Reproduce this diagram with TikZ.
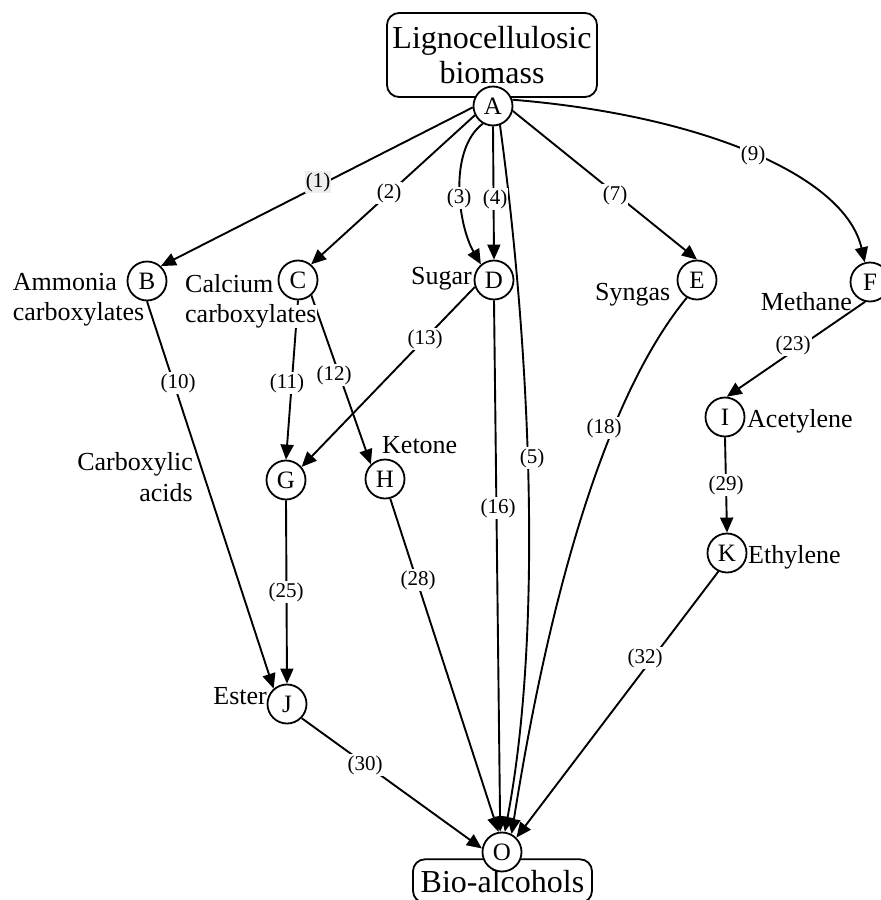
\documentclass[tikz,border=0pt]{standalone}
\usepackage{fontspec}
\setmainfont{Liberation Serif}
\usetikzlibrary{arrows.meta}
\definecolor{lgray}{HTML}{EEEEEE}
\begin{document}
\begin{tikzpicture}[x=1pt,y=-1pt,
  st/.style={circle,draw,fill=white,line width=1.8pt,minimum size=39pt,inner sep=0pt,font=\fontsize{25}{25}\selectfont},
  lab/.style={inner sep=0pt,font=\fontsize{26}{30}\selectfont},
  el/.style={fill=white,inner sep=1pt,font=\fontsize{21}{21}\selectfont},
  ed/.style={line width=1.9pt,-{Triangle[length=15pt,width=13pt]}},
  bx/.style={draw,fill=white,rounded corners=12pt,line width=1.8pt,align=center,inner sep=0pt,font=\fontsize{32}{35}\selectfont}]
\useasboundingbox (0,0) rectangle (881,900);
% boxes
\node[bx,minimum width=210pt,minimum height=84pt] (top) at (492,55) {Lignocellulosic\\biomass};
\node[bx,anchor=base,minimum width=179pt,inner ysep=10.5pt] (bot) at (502.5,892) {Bio-alcohols};
% states
\node[st] (A) at (493,106) {A};
\node[st] (B) at (147,281) {B};
\node[st] (C) at (298,280) {C};
\node[st] (D) at (494,280) {D};
\node[st] (E) at (697,280) {E};
\node[st] (F) at (870,282) {F};
\node[st] (I) at (725,417) {I};
\node[st] (G) at (286,480) {G};
\node[st] (H) at (385,479) {H};
\node[st] (K) at (727,553) {K};
\node[st] (J) at (287,704) {J};
\node[st] (O) at (502,852) {O};
% edges
\draw[ed] (A.184) -- (B.47);
\draw[ed] (A.207) -- (C.50);
\draw[ed] (A.240) .. controls (448,150) and (458,225) .. (D.130);
\draw[ed] (A.south) -- (D.north);
\draw[ed] (A.290) .. controls (528,330) and (545,620) .. (O.82);
\draw[ed] (A.346) -- (E.90);
\draw[ed] (A.18) .. controls (700,115) and (845,175) .. (F.105);
\draw[ed] (B.south) -- (J.131);
\draw[ed] (C.south) -- (G.north);
\draw[ed] (C.311) -- (H.134);
\draw[ed] (D.200) -- (G.40);
\draw[ed] (D.south) -- (O.95);
\draw[ed] (E.240) .. controls (615,385) and (555,560) .. (O.62);
\draw[ed] (F.256) -- (I.85);
\draw[ed] (I.south) -- (K.north);
\draw[ed] (G.south) -- (J.north);
\draw[ed] (H.285) -- (O.100);
\draw[ed] (J.316) -- (O.170);
\draw[ed] (K.245) -- (O.45);
% edge labels
\node[el,fill=lgray] (l1) at (318,182) {(1)};
\node[el] (l2) at (389,193) {(2)};
\node[el] (l3) at (459,198) {(3)};
\node[el] (l4) at (495,199) {(4)};
\node[el] (l7) at (615,195) {(7)};
\node[el] (l9) at (753,155) {(9)};
\node[el] (l10) at (178,383) {(10)};
\node[el] (l11) at (287,383) {(11)};
\node[el] (l12) at (334,375) {(12)};
\node[el] (l13) at (425,339) {(13)};
\node[el] (l5) at (532,458) {(5)};
\node[el] (l16) at (498,508) {(16)};
\node[el] (l18) at (604,428) {(18)};
\node[el] (l23) at (793,345) {(23)};
\node[el] (l29) at (726,485) {(29)};
\node[el] (l25) at (286,592) {(25)};
\node[el] (l28) at (418,580) {(28)};
\node[el] (l30) at (365,765) {(30)};
\node[el] (l32) at (645,658) {(32)};
% text labels
\node[lab,anchor=base west] (tB1) at (12.7,290) {Ammonia};
\node[lab,anchor=base west] (tB2) at (12.7,320) {carboxylates};
\node[lab,anchor=base west,fill=white] (tC1) at (185,292.7) {Calcium};
\node[lab,anchor=base west,fill=white] (tC2) at (185,322.7) {carboxylates};
\node[lab,anchor=base east] (tD) at (472,284) {Sugar};
\node[lab,anchor=base west] (tE) at (595,300) {Syngas};
\node[lab,anchor=base east] (tF) at (852,310) {Methane};
\node[lab,anchor=base west] (tI) at (747,427) {Acetylene};
\node[lab,anchor=base west] (tH) at (382,453) {Ketone};
\node[lab,anchor=base east] (tJa) at (193,470) {Carboxylic};
\node[lab,anchor=base east] (tJb) at (193,501) {acids};
\node[lab,anchor=base east] (tJ) at (267,704) {Ester};
\node[lab,anchor=base west] (tK) at (748,563) {Ethylene};
\end{tikzpicture}
\end{document}
